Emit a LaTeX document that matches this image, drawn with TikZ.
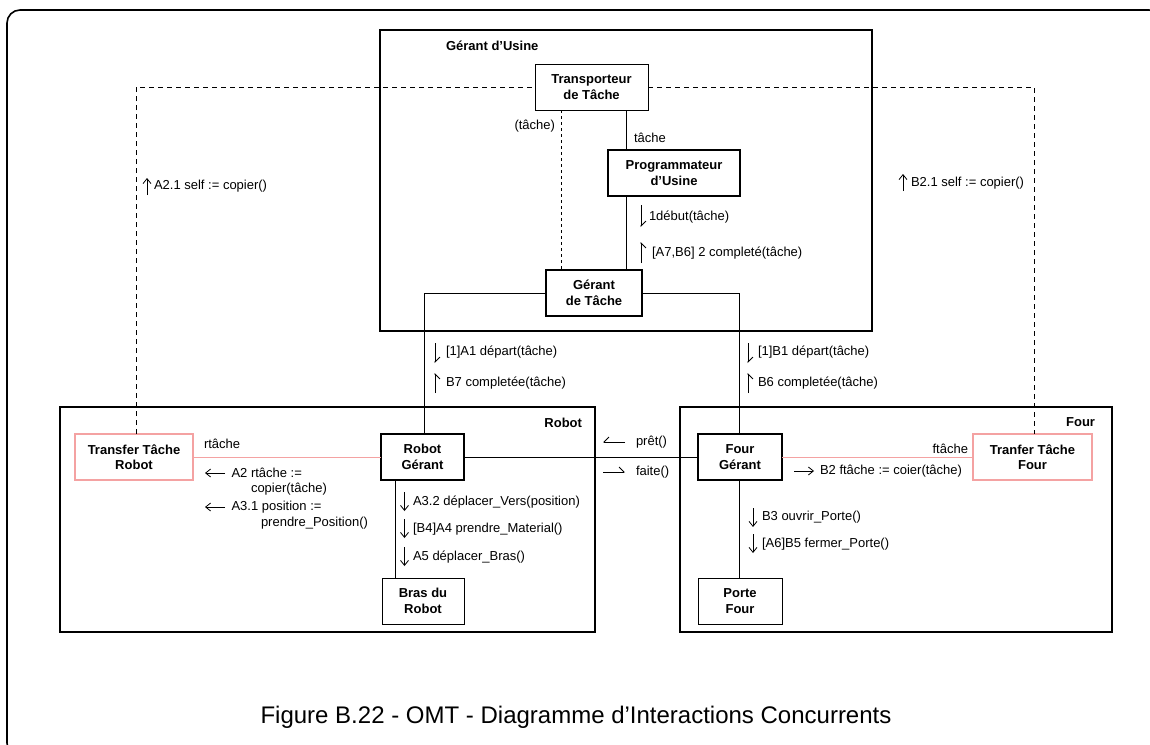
\documentclass[tikz,border=0pt]{standalone}
\usepackage{fontspec}
\setmainfont{Liberation Sans}
\usetikzlibrary{arrows.meta}
\definecolor{pinkc}{RGB}{244,162,162}
\begin{document}
\begin{tikzpicture}[x=1pt,y=-1pt,
  every node/.style={inner sep=0pt, outer sep=0pt},
  txt/.style={font=\fontsize{13}{15.5}\selectfont},
  bx/.style={draw, line width=0.9pt, fill=white, align=center,
    font=\bfseries\fontsize{13}{15.5}\selectfont, minimum height=46pt},
  bxk/.style={bx, line width=2pt},
  bxp/.style={bx, draw=pinkc, line width=1.8pt},
  cont/.style={draw, line width=1.8pt},
  conn/.style={line width=0.9pt},
  dsh/.style={conn, dash pattern=on 5pt off 4pt},
  msg/.style={line width=0.8pt, -{Straight Barb[length=5pt,width=8pt]}},
  hl/.style={line width=0.8pt, -{Straight Barb[harpoon,length=5pt,width=10pt]}},
  hr/.style={line width=0.8pt, -{Straight Barb[harpoon,swap,length=5pt,width=10pt]}},
]
\useasboundingbox (0,0) rectangle (1150,744);
\begin{scope}
\clip (0,0) rectangle (1150,744);
\draw[line width=1.6pt, rounded corners=13pt] (7,10) rectangle (1162,756);
\end{scope}

% containers
\node[cont, minimum width=492pt, minimum height=301pt] (GU) at (626,180.5) {};
\node[cont, minimum width=535pt, minimum height=225pt] (RB) at (327.5,519.5) {};
\node[cont, minimum width=432pt, minimum height=225pt] (FR) at (896,519.5) {};
\node[txt, anchor=west] (lGU) at (446,46) {\bfseries Gérant d’Usine};
\node[txt, anchor=east] (lRB) at (582,423) {\bfseries Robot};
\node[txt, anchor=east] (lFR) at (1095,422) {\bfseries Four};

% objects
\node[bx, minimum width=113pt] (TT) at (591.5,87) {Transporteur\\de Tâche};
\node[bxk, minimum width=132pt] (PU) at (674,173) {Programmateur\\d’Usine};
\node[bxk, minimum width=96pt] (GT) at (594,293) {Gérant\\de Tâche};
\node[bxp, minimum width=118pt] (TTR) at (134,457) {Transfer Tâche\\Robot};
\node[bxk, minimum width=83pt] (RG) at (422.5,457) {Robot\\Gérant};
\node[bx, minimum width=82pt] (BR) at (423,601) {Bras du\\Robot};
\node[bxk, minimum width=84pt] (FG) at (740,457) {Four\\Gérant};
\node[bxp, minimum width=119pt] (TTF) at (1032.5,457) {Tranfer Tâche\\Four};
\node[bx, minimum width=84pt] (PF) at (740,601) {Porte\\Four};

% helper coordinates
\coordinate (dl) at (136,87);
\coordinate (dr) at (1034,87);
\coordinate (xa) at (561,0);
\coordinate (xb) at (626,0);
\coordinate (xc) at (424,0);
\coordinate (xd) at (739,0);
\coordinate (xe) at (395,0);

% connectors
\draw[dsh] (TTR.north -| dl) -- (dl) -- (TT.west);
\draw[dsh] (TT.east) -- (dr) -- (TTF.north -| dr);
\draw[conn, dash pattern=on 3pt off 3pt] (TT.south -| xa) -- (GT.north -| xa);
\draw[conn] (TT.south -| xb) -- (PU.north -| xb);
\draw[conn] (PU.south -| xb) -- (GT.north -| xb);
\draw[conn] (GT.west) -| (RG.north -| xc);
\draw[conn] (GT.east) -| (FG.north -| xd);
\draw[conn, draw=pinkc] (TTR.east) -- (RG.west);
\draw[conn, draw=pinkc] (FG.east) -- (TTF.west);
\draw[conn] (RG.east) -- (FG.west);
\draw[conn] (RG.south -| xe) -- (BR.north -| xe);
\draw[conn] (FG.south -| xd) -- (PF.north -| xd);

% link labels
\node[txt, anchor=east] (l1) at (555,126) {(tâche)};
\node[txt, anchor=west] (l2) at (634,138) {tâche};
\node[txt, anchor=west] (l3) at (204,444) {rtâche};
\node[txt, anchor=east] (l4) at (968,449) {ftâche};

% messages
\draw[hl] (641,205) -- (641,227);
\node[txt, anchor=west] (m1) at (649,217) {1début(tâche)};
\draw[hr] (641,263) -- (641,242);
\node[txt, anchor=west] (m2) at (652,253) {[A7,B6] 2 completé(tâche)};

\draw[hl] (435,343) -- (435,363);
\node[txt, anchor=west] (m3) at (446,352) {[1]A1 départ(tâche)};
\draw[hr] (435,393) -- (435,373);
\node[txt, anchor=west] (m4) at (446,383) {B7 completée(tâche)};
\draw[hl] (748,343) -- (748,363);
\node[txt, anchor=west] (m5) at (758,352) {[1]B1 départ(tâche)};
\draw[hr] (748,393) -- (748,373);
\node[txt, anchor=west] (m6) at (758,383) {B6 completée(tâche)};

\draw[msg] (147,195) -- (147,178);
\node[txt, anchor=west] (m7) at (154,186) {A2.1 self := copier()};
\draw[msg] (903,191) -- (903,174);
\node[txt, anchor=west] (m8) at (911,183) {B2.1 self := copier()};

\draw[hr] (625,442) -- (603,442);
\node[txt, anchor=west] (m9) at (636,442) {prêt()};
\draw[hl] (603,472) -- (625,472);
\node[txt, anchor=west] (m10) at (636,472) {faite()};

\draw[msg] (225,473) -- (205,473);
\node[txt, anchor=west] (m11) at (231.5,473) {A2 rtâche :=};
\node[txt, anchor=west] (m12) at (251,489) {copier(tâche)};
\draw[msg] (225,507) -- (205,507);
\node[txt, anchor=west] (m13) at (231.5,507) {A3.1 position :=};
\node[txt, anchor=west] (m14) at (261,523) {prendre\_Position()};

\draw[msg] (404.5,492) -- (404.5,511);
\node[txt, anchor=west] (m15) at (413,502) {A3.2 déplacer\_Vers(position)};
\draw[msg] (404.5,519) -- (404.5,538);
\node[txt, anchor=west] (m16) at (413,529) {[B4]A4 prendre\_Material()};
\draw[msg] (404.5,547) -- (404.5,566);
\node[txt, anchor=west] (m17) at (413,557) {A5 déplacer\_Bras()};

\draw[msg] (794,471) -- (814,471);
\node[txt, anchor=west] (m18) at (820,471) {B2 ftâche := coier(tâche)};
\draw[msg] (753,508) -- (753,527);
\node[txt, anchor=west] (m19) at (762,517) {B3 ouvrir\_Porte()};
\draw[msg] (753,534) -- (753,553);
\node[txt, anchor=west] (m20) at (762,544) {[A6]B5 fermer\_Porte()};

% caption
\node[font=\fontsize{24}{29}\selectfont] (cap) at (576,717) {Figure B.22 - OMT - Diagramme d’Interactions Concurrents};
\end{tikzpicture}
\end{document}
